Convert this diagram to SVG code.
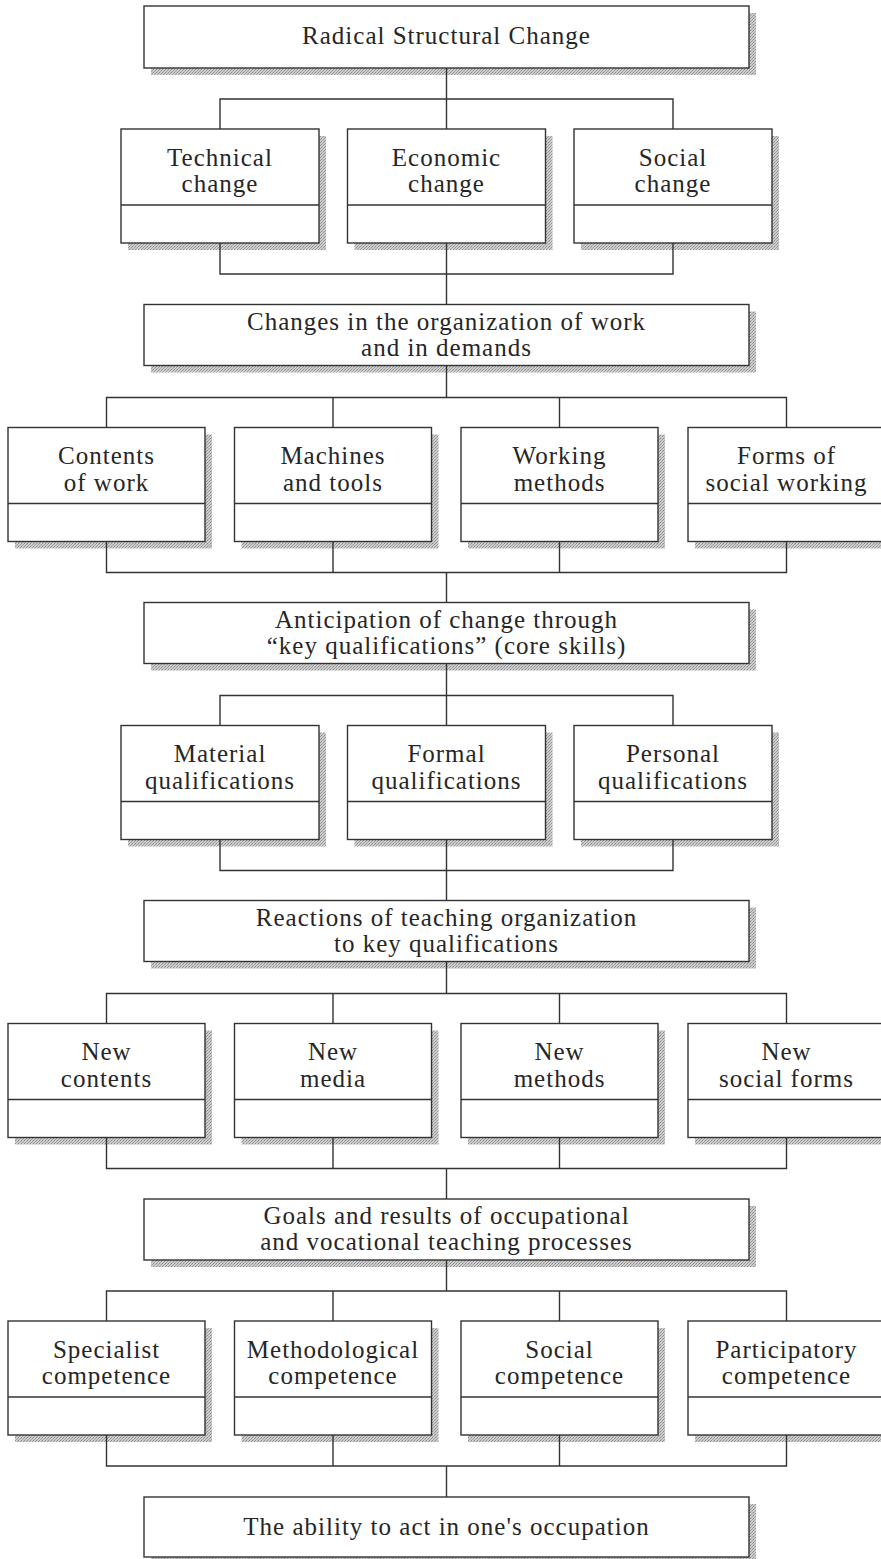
<svg xmlns="http://www.w3.org/2000/svg" width="881" height="1559" viewBox="0 0 881 1559">
<defs>
<pattern id="stip" width="3" height="3" patternUnits="userSpaceOnUse">
<rect width="3" height="3" fill="#cdcdcd"/>
<rect x="0" y="0" width="1" height="1" fill="#8c8c8c"/>
<rect x="2" y="1" width="1" height="1" fill="#9a9a9a"/>
<rect x="1" y="2" width="1" height="1" fill="#a4a4a4"/>
</pattern>
<style>
.sh{fill:url(#stip);stroke:none}
.bx{fill:#fff;stroke:#333;stroke-width:1.4}
.dv{stroke:#333;stroke-width:1.4}
.cn{fill:none;stroke:#333;stroke-width:1.4}
.t{font-family:"Liberation Serif","Times New Roman",serif;font-size:25px;letter-spacing:1px;fill:#262626;text-anchor:middle}
</style>
</defs>
<rect width="881" height="1559" fill="#fff"/>

<!-- Level A -->
<g id="radical">
<rect class="sh" x="151" y="13" width="605" height="62"/>
<rect class="bx" x="144" y="6" width="605" height="62"/>
<text class="t" x="446.5" y="44">Radical Structural Change</text>
</g>

<g id="technical">
<rect class="sh" x="128" y="136" width="198" height="114"/>
<rect class="bx" x="121" y="129" width="198" height="114"/>
<line class="dv" x1="121" y1="205" x2="319" y2="205"/>
<text class="t" x="220" y="165.5">Technical</text>
<text class="t" x="220" y="192">change</text>
</g>
<g id="economic">
<rect class="sh" x="354.5" y="136" width="198" height="114"/>
<rect class="bx" x="347.5" y="129" width="198" height="114"/>
<line class="dv" x1="347.5" y1="205" x2="545.5" y2="205"/>
<text class="t" x="446.5" y="165.5">Economic</text>
<text class="t" x="446.5" y="192">change</text>
</g>
<g id="social">
<rect class="sh" x="581" y="136" width="198" height="114"/>
<rect class="bx" x="574" y="129" width="198" height="114"/>
<line class="dv" x1="574" y1="205" x2="772" y2="205"/>
<text class="t" x="673" y="165.5">Social</text>
<text class="t" x="673" y="192">change</text>
</g>

<!-- Level C -->
<g id="changes">
<rect class="sh" x="151" y="311.5" width="605" height="61"/>
<rect class="bx" x="144" y="304.5" width="605" height="61"/>
<text class="t" x="446.5" y="329.5">Changes in the organization of work</text>
<text class="t" x="446.5" y="355.5">and in demands</text>
</g>

<g id="contents">
<rect class="sh" x="15" y="434.5" width="197" height="114"/>
<rect class="bx" x="8" y="427.5" width="197" height="114"/>
<line class="dv" x1="8" y1="503.5" x2="205" y2="503.5"/>
<text class="t" x="106.5" y="464">Contents</text>
<text class="t" x="106.5" y="490.5">of work</text>
</g>
<g id="machines">
<rect class="sh" x="241.5" y="434.5" width="197" height="114"/>
<rect class="bx" x="234.5" y="427.5" width="197" height="114"/>
<line class="dv" x1="234.5" y1="503.5" x2="431.5" y2="503.5"/>
<text class="t" x="333" y="464">Machines</text>
<text class="t" x="333" y="490.5">and tools</text>
</g>
<g id="working">
<rect class="sh" x="468" y="434.5" width="197" height="114"/>
<rect class="bx" x="461" y="427.5" width="197" height="114"/>
<line class="dv" x1="461" y1="503.5" x2="658" y2="503.5"/>
<text class="t" x="559.5" y="464">Working</text>
<text class="t" x="559.5" y="490.5">methods</text>
</g>
<g id="forms">
<rect class="sh" x="695" y="434.5" width="197" height="114"/>
<rect class="bx" x="688" y="427.5" width="197" height="114"/>
<line class="dv" x1="688" y1="503.5" x2="885" y2="503.5"/>
<text class="t" x="786.5" y="464">Forms of</text>
<text class="t" x="786.5" y="490.5">social working</text>
</g>

<!-- Level E -->
<g id="anticipation">
<rect class="sh" x="151" y="609.5" width="605" height="61"/>
<rect class="bx" x="144" y="602.5" width="605" height="61"/>
<text class="t" x="446.5" y="627.5">Anticipation of change through</text>
<text class="t" x="446.5" y="653.5">“key qualifications” (core skills)</text>
</g>

<g id="material">
<rect class="sh" x="128" y="732.5" width="198" height="114"/>
<rect class="bx" x="121" y="725.5" width="198" height="114"/>
<line class="dv" x1="121" y1="801.5" x2="319" y2="801.5"/>
<text class="t" x="220" y="762">Material</text>
<text class="t" x="220" y="788.5">qualifications</text>
</g>
<g id="formal">
<rect class="sh" x="354.5" y="732.5" width="198" height="114"/>
<rect class="bx" x="347.5" y="725.5" width="198" height="114"/>
<line class="dv" x1="347.5" y1="801.5" x2="545.5" y2="801.5"/>
<text class="t" x="446.5" y="762">Formal</text>
<text class="t" x="446.5" y="788.5">qualifications</text>
</g>
<g id="personal">
<rect class="sh" x="581" y="732.5" width="198" height="114"/>
<rect class="bx" x="574" y="725.5" width="198" height="114"/>
<line class="dv" x1="574" y1="801.5" x2="772" y2="801.5"/>
<text class="t" x="673" y="762">Personal</text>
<text class="t" x="673" y="788.5">qualifications</text>
</g>

<!-- Level G -->
<g id="reactions">
<rect class="sh" x="151" y="907.5" width="605" height="61"/>
<rect class="bx" x="144" y="900.5" width="605" height="61"/>
<text class="t" x="446.5" y="925.5">Reactions of teaching organization</text>
<text class="t" x="446.5" y="951.5">to key qualifications</text>
</g>

<g id="new-contents">
<rect class="sh" x="15" y="1030.5" width="197" height="114"/>
<rect class="bx" x="8" y="1023.5" width="197" height="114"/>
<line class="dv" x1="8" y1="1099.5" x2="205" y2="1099.5"/>
<text class="t" x="106.5" y="1060">New</text>
<text class="t" x="106.5" y="1086.5">contents</text>
</g>
<g id="new-media">
<rect class="sh" x="241.5" y="1030.5" width="197" height="114"/>
<rect class="bx" x="234.5" y="1023.5" width="197" height="114"/>
<line class="dv" x1="234.5" y1="1099.5" x2="431.5" y2="1099.5"/>
<text class="t" x="333" y="1060">New</text>
<text class="t" x="333" y="1086.5">media</text>
</g>
<g id="new-methods">
<rect class="sh" x="468" y="1030.5" width="197" height="114"/>
<rect class="bx" x="461" y="1023.5" width="197" height="114"/>
<line class="dv" x1="461" y1="1099.5" x2="658" y2="1099.5"/>
<text class="t" x="559.5" y="1060">New</text>
<text class="t" x="559.5" y="1086.5">methods</text>
</g>
<g id="new-social-forms">
<rect class="sh" x="695" y="1030.5" width="197" height="114"/>
<rect class="bx" x="688" y="1023.5" width="197" height="114"/>
<line class="dv" x1="688" y1="1099.5" x2="885" y2="1099.5"/>
<text class="t" x="786.5" y="1060">New</text>
<text class="t" x="786.5" y="1086.5">social forms</text>
</g>

<!-- Level I -->
<g id="goals">
<rect class="sh" x="151" y="1206" width="605" height="61"/>
<rect class="bx" x="144" y="1199" width="605" height="61"/>
<text class="t" x="446.5" y="1224">Goals and results of occupational</text>
<text class="t" x="446.5" y="1250">and vocational teaching processes</text>
</g>

<g id="specialist">
<rect class="sh" x="15" y="1328" width="197" height="114"/>
<rect class="bx" x="8" y="1321" width="197" height="114"/>
<line class="dv" x1="8" y1="1397" x2="205" y2="1397"/>
<text class="t" x="106.5" y="1357.5">Specialist</text>
<text class="t" x="106.5" y="1384">competence</text>
</g>
<g id="methodological">
<rect class="sh" x="241.5" y="1328" width="197" height="114"/>
<rect class="bx" x="234.5" y="1321" width="197" height="114"/>
<line class="dv" x1="234.5" y1="1397" x2="431.5" y2="1397"/>
<text class="t" x="333" y="1357.5">Methodological</text>
<text class="t" x="333" y="1384">competence</text>
</g>
<g id="social-competence">
<rect class="sh" x="468" y="1328" width="197" height="114"/>
<rect class="bx" x="461" y="1321" width="197" height="114"/>
<line class="dv" x1="461" y1="1397" x2="658" y2="1397"/>
<text class="t" x="559.5" y="1357.5">Social</text>
<text class="t" x="559.5" y="1384">competence</text>
</g>
<g id="participatory">
<rect class="sh" x="695" y="1328" width="197" height="114"/>
<rect class="bx" x="688" y="1321" width="197" height="114"/>
<line class="dv" x1="688" y1="1397" x2="885" y2="1397"/>
<text class="t" x="786.5" y="1357.5">Participatory</text>
<text class="t" x="786.5" y="1384">competence</text>
</g>

<!-- Level K -->
<g id="ability">
<rect class="sh" x="151" y="1504" width="605" height="60"/>
<rect class="bx" x="144" y="1497" width="605" height="60"/>
<text class="t" x="446.5" y="1535">The ability to act in one's occupation</text>
</g>

<g id="connectors">
<path class="cn" d="M446.5 68 V99 M220 129 V99 H673 V129 M446.5 99 V129"/>
<path class="cn" d="M220 243 V274 H673 V243 M446.5 243 V304.5"/>
<path class="cn" d="M446.5 365.5 V397.5 M106.5 427.5 V397.5 H786.5 V427.5 M333 397.5 V427.5 M559.5 397.5 V427.5"/>
<path class="cn" d="M106.5 541.5 V572.5 H786.5 V541.5 M333 541.5 V572.5 M559.5 541.5 V572.5 M446.5 572.5 V602.5"/>
<path class="cn" d="M446.5 663.5 V695.5 M220 725.5 V695.5 H673 V725.5 M446.5 695.5 V725.5"/>
<path class="cn" d="M220 839.5 V870.5 H673 V839.5 M446.5 839.5 V900.5"/>
<path class="cn" d="M446.5 961.5 V993.5 M106.5 1023.5 V993.5 H786.5 V1023.5 M333 993.5 V1023.5 M559.5 993.5 V1023.5"/>
<path class="cn" d="M106.5 1137.5 V1168.5 H786.5 V1137.5 M333 1137.5 V1168.5 M559.5 1137.5 V1168.5 M446.5 1168.5 V1199"/>
<path class="cn" d="M446.5 1260 V1291 M106.5 1321 V1291 H786.5 V1321 M333 1291 V1321 M559.5 1291 V1321"/>
<path class="cn" d="M106.5 1435 V1466 H786.5 V1435 M333 1435 V1466 M559.5 1435 V1466 M446.5 1466 V1497"/>
</g>
</svg>
